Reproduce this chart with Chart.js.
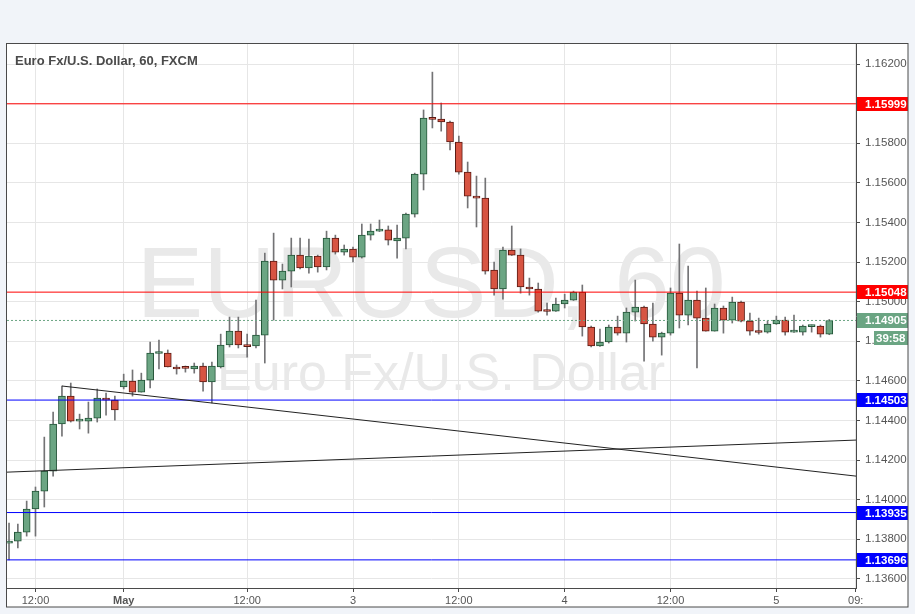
<!DOCTYPE html>
<html lang="en">
<head>
    <meta charset="UTF-8">
    <title>EURUSD 60</title>
    <script src="https://cdn.jsdelivr.net/npm/chart.js"></script>
    <style>
        html, body { margin: 0; padding: 0; background: #f1f4f9; }
        #wrap { width: 915px; height: 614px; position: relative; }
    </style>
</head>
<body>
<div id="wrap"><canvas id="fxChart"></canvas></div>
<script>
// Hourly candles (bar index = hour, weekend gap removed)
const opens = [1.13781, 1.13791, 1.13836, 1.13953, 1.14043, 1.14144, 1.14382, 1.14523, 1.14397, 1.14397,
    1.14412, 1.14513, 1.14503, 1.14569, 1.14599, 1.14543, 1.14604, 1.14738, 1.14740, 1.14670,
    1.14665, 1.14660, 1.14675, 1.14594, 1.14670, 1.14781, 1.14851, 1.14779, 1.14776, 1.14831,
    1.15205, 1.15109, 1.15154, 1.15235, 1.15170, 1.15230, 1.15175, 1.15321, 1.15250, 1.15266,
    1.15225, 1.15336, 1.15356, 1.15362, 1.15306, 1.15321, 1.15442, 1.15644, 1.15927, 1.15922,
    1.15907, 1.15806, 1.15654, 1.15533, 1.15523, 1.15160, 1.15064, 1.15261, 1.15235, 1.15074,
    1.15064, 1.14957, 1.14952, 1.14988, 1.15008, 1.15048, 1.14872, 1.14776, 1.14796, 1.14872,
    1.14841, 1.14947, 1.14973, 1.14887, 1.14821, 1.14841, 1.15043, 1.14932, 1.15008, 1.14917,
    1.14851, 1.14968, 1.14907, 1.14998, 1.14902, 1.14851, 1.14846, 1.14887, 1.14907, 1.14846,
    1.14846, 1.14874, 1.14877, 1.14836];
const highs = [1.13882, 1.13877, 1.13993, 1.14064, 1.14316, 1.14442, 1.14574, 1.14589, 1.14432, 1.14493,
    1.14559, 1.14538, 1.14523, 1.14634, 1.14655, 1.14639, 1.14796, 1.14806, 1.14756, 1.14680,
    1.14675, 1.14690, 1.14690, 1.14695, 1.14836, 1.14922, 1.14922, 1.14836, 1.15008, 1.15245,
    1.15346, 1.15190, 1.15321, 1.15321, 1.15316, 1.15235, 1.15356, 1.15336, 1.15286, 1.15276,
    1.15392, 1.15392, 1.15412, 1.15382, 1.15387, 1.15447, 1.15649, 1.15968, 1.16159, 1.16003,
    1.15912, 1.15836, 1.15705, 1.15634, 1.15624, 1.15200, 1.15276, 1.15382, 1.15266, 1.15119,
    1.15094, 1.14993, 1.15018, 1.15038, 1.15053, 1.15084, 1.14877, 1.14862, 1.14882, 1.14927,
    1.14968, 1.15109, 1.14978, 1.14993, 1.14846, 1.15069, 1.15291, 1.15180, 1.15053, 1.15069,
    1.14988, 1.14978, 1.15023, 1.15003, 1.14942, 1.14917, 1.14902, 1.14927, 1.14922, 1.14932,
    1.14882, 1.14882, 1.14882, 1.14910];
const lows = [1.13696, 1.13756, 1.13816, 1.13816, 1.13963, 1.14119, 1.14321, 1.14392, 1.14357, 1.14336,
    1.14392, 1.14427, 1.14402, 1.14559, 1.14523, 1.14543, 1.14564, 1.14660, 1.14670, 1.14634,
    1.14644, 1.14639, 1.14548, 1.14488, 1.14665, 1.14771, 1.14766, 1.14720, 1.14766, 1.14690,
    1.14907, 1.15064, 1.15074, 1.15165, 1.15144, 1.15149, 1.15160, 1.15240, 1.15235, 1.15200,
    1.15220, 1.15311, 1.15354, 1.15286, 1.15220, 1.15266, 1.15427, 1.15564, 1.15877, 1.15861,
    1.15766, 1.15644, 1.15473, 1.15377, 1.15139, 1.15033, 1.15013, 1.15233, 1.15043, 1.15033,
    1.14947, 1.14932, 1.14950, 1.14968, 1.15006, 1.14826, 1.14771, 1.14774, 1.14791, 1.14831,
    1.14796, 1.14902, 1.14700, 1.14801, 1.14730, 1.14831, 1.14867, 1.14882, 1.14665, 1.14851,
    1.14851, 1.14841, 1.14892, 1.14897, 1.14831, 1.14836, 1.14841, 1.14885, 1.14831, 1.14844,
    1.14831, 1.14846, 1.14821, 1.14833];
const closes = [1.13791, 1.13836, 1.13953, 1.14043, 1.14144, 1.14382, 1.14523, 1.14397, 1.14400, 1.14412,
    1.14513, 1.14503, 1.14453, 1.14599, 1.14543, 1.14604, 1.14740, 1.14741, 1.14670, 1.14660,
    1.14663, 1.14675, 1.14594, 1.14675, 1.14781, 1.14851, 1.14781, 1.14773, 1.14831, 1.15205,
    1.15109, 1.15154, 1.15235, 1.15170, 1.15230, 1.15175, 1.15321, 1.15250, 1.15266, 1.15225,
    1.15336, 1.15356, 1.15362, 1.15311, 1.15321, 1.15442, 1.15644, 1.15927, 1.15920, 1.15907,
    1.15806, 1.15654, 1.15533, 1.15523, 1.15154, 1.15064, 1.15261, 1.15235, 1.15074, 1.15064,
    1.14952, 1.14950, 1.14988, 1.15008, 1.15048, 1.14872, 1.14776, 1.14796, 1.14872, 1.14841,
    1.14947, 1.14973, 1.14887, 1.14821, 1.14841, 1.15043, 1.14932, 1.15008, 1.14917, 1.14851,
    1.14968, 1.14907, 1.14998, 1.14902, 1.14851, 1.14844, 1.14887, 1.14907, 1.14846, 1.14851,
    1.14877, 1.14877, 1.14836, 1.14905];

// Time axis labels (at bar index)
const timeTickPos = [3, 13, 27, 39, 51, 63, 75, 87, 96];
const timeTickLabels = ['12:00', 'May', '12:00', '3', '12:00', '4', '12:00', '5', '09:'];

// Price axis
const priceTicks = [1.136, 1.138, 1.140, 1.142, 1.144, 1.146, 1.148, 1.150, 1.152, 1.154, 1.156, 1.158, 1.160, 1.162];

// Drawn levels and trend lines
const levelValues = [1.15999, 1.15048, 1.14503, 1.13935, 1.13696];
const levelColors = ['#ff0000', '#ff0000', '#0000ff', '#0000ff', '#0000ff'];
const lastPrice = 1.14905;
const countdown = '39:58';
const trendDown = [{ x: 6, y: 1.14574 }, { x: 96.03, y: 1.14119 }];
const trendUp = [{ x: -0.23, y: 1.14139 }, { x: 96.03, y: 1.14301 }];

const X_MIN = -0.23, X_MAX = 96.03;
const Y_MIN = 1.13554, Y_MAX = 1.16301;

const UP_FILL = '#6ba583', UP_LINE = '#225437';
const DN_FILL = '#d75442', DN_LINE = '#5b1a13';
const FONT = "'Liberation Sans', Arial, sans-serif";

Chart.defaults.font.family = FONT;

const isUp = i => closes[i] >= opens[i];
const flat = v => [{ x: X_MIN, y: v }, { x: X_MAX, y: v }];

// background, frame, watermark, title and price tags
const decor = {
    id: 'decor',
    beforeDraw(chart) {
        const c = chart.ctx;
        c.save();
        c.fillStyle = '#f1f4f9';
        c.fillRect(0, 0, chart.width, chart.height);
        c.fillStyle = '#ffffff';
        c.fillRect(7, 44, 901, 563);
        c.restore();
    },
    beforeDatasetsDraw(chart) {
        const c = chart.ctx;
        c.save();
        c.fillStyle = '#e9e9e9';
        c.textAlign = 'center';
        c.textBaseline = 'alphabetic';
        c.font = '100px ' + FONT;
        c.fillText('EURUSD, 60', 431, 317);
        c.font = '52px ' + FONT;
        c.fillText('Euro Fx/U.S. Dollar', 441, 390);
        c.restore();
    },
    afterDraw(chart) {
        const c = chart.ctx;
        const y = chart.scales.y;
        c.save();
        // title
        c.fillStyle = '#4a4a4a';
        c.font = 'bold 13px ' + FONT;
        c.textBaseline = 'middle';
        c.textAlign = 'left';
        c.fillText('Euro Fx/U.S. Dollar, 60, FXCM', 15, 61);
        // price tags
        c.font = 'bold 11.5px ' + FONT;
        levelValues.forEach((v, i) => {
            const py = Math.round(y.getPixelForValue(v));
            c.fillStyle = levelColors[i];
            c.fillRect(857, py - 7, 51, 14);
            c.fillStyle = '#ffffff';
            c.fillText(v.toFixed(5), 865, py + 0.5);
        });
        const lp = Math.round(y.getPixelForValue(lastPrice));
        c.fillStyle = UP_FILL;
        c.fillRect(857, lp - 7, 51, 15);
        c.fillRect(874, lp + 11, 34, 14);
        c.fillStyle = '#ffffff';
        c.fillText(lastPrice.toFixed(5), 865, lp + 0.5);
        c.fillText(countdown, 876, lp + 18.5);
        // frame
        c.strokeStyle = '#4a4a4a';
        c.lineWidth = 1;
        c.strokeRect(6.5, 43.5, 901.5, 563.5);
        c.restore();
    }
};

const lineDs = (data, color, extra) => Object.assign({
    type: 'line', data: data, borderColor: color, borderWidth: 1,
    pointRadius: 0, fill: false, tension: 0, order: 0
}, extra || {});

new Chart(document.getElementById('fxChart'), {
    type: 'bar',
    data: {
        datasets: [
            lineDs(trendDown, '#222222'),
            lineDs(trendUp, '#222222'),
            ...levelValues.map((v, i) => lineDs(flat(v), levelColors[i])),
            lineDs(flat(lastPrice), UP_FILL, { borderDash: [2, 2] }),
            {
                label: 'wick',
                data: highs.map((h, i) => ({ x: i, y: [lows[i], h] })),
                backgroundColor: '#737375',
                borderWidth: 0,
                barThickness: 1,
                grouped: false,
                order: 3
            },
            {
                label: 'body',
                data: opens.map((o, i) => ({ x: i, y: [o, closes[i]] })),
                backgroundColor: ctx => isUp(ctx.dataIndex) ? UP_FILL : DN_FILL,
                borderColor: ctx => isUp(ctx.dataIndex) ? UP_LINE : DN_LINE,
                borderWidth: 1,
                borderSkipped: false,
                barThickness: 7,
                minBarLength: 2,
                grouped: false,
                order: 2
            }
        ]
    },
    options: {
        responsive: true,
        maintainAspectRatio: false,
        animation: false,
        layout: { padding: { left: 7, top: 44, right: 7, bottom: 7 } },
        plugins: { legend: { display: false }, tooltip: { enabled: false }, title: { display: false } },
        scales: {
            x: {
                type: 'linear',
                min: X_MIN,
                max: X_MAX,
                offset: false,
                afterBuildTicks: s => { s.ticks = timeTickPos.map(v => ({ value: v })); },
                afterFit: s => { s.height = 19; },
                ticks: {
                    autoSkip: false,
                    maxRotation: 0,
                    padding: 2,
                    color: '#555555',
                    font: ctx => ({ size: 11, weight: timeTickLabels[ctx.index] === 'May' ? 'bold' : 'normal' }),
                    callback: v => timeTickLabels[timeTickPos.indexOf(v)]
                },
                grid: { offset: false, color: '#e6e6e6', tickColor: '#4a4a4a', tickLength: 4 },
                border: { color: '#4a4a4a' }
            },
            y: {
                position: 'right',
                min: Y_MIN,
                max: Y_MAX,
                afterBuildTicks: s => { s.ticks = priceTicks.map(v => ({ value: v })); },
                afterFit: s => { s.width = 52; },
                ticks: {
                    autoSkip: false,
                    padding: 5,
                    color: '#555555',
                    font: { size: 11.5 },
                    callback: v => v.toFixed(5)
                },
                grid: { color: '#e6e6e6', tickColor: '#4a4a4a', tickLength: 4 },
                border: { color: '#4a4a4a' }
            }
        }
    },
    plugins: [decor]
});
</script>
</body>
</html>
